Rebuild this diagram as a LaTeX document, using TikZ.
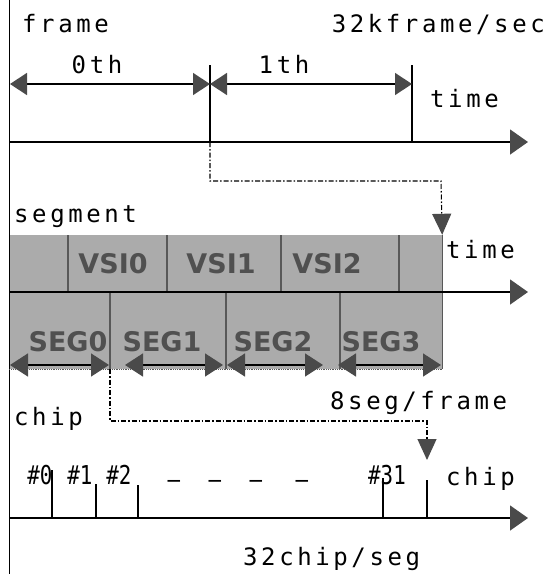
\documentclass[tikz,border=0pt]{standalone}
\usepackage{fontspec}
\usepackage{tikz}
\setmainfont{DejaVu Sans}
\newfontfamily\lblfont[LetterSpace=15]{DejaVu Sans Mono}
\newfontfamily\numfont[FakeStretch=0.8]{DejaVu Sans Mono}
\usetikzlibrary{arrows.meta}

\definecolor{bandgray}{HTML}{ABABAB}
\definecolor{tipgray}{HTML}{4A4A4A}
\definecolor{inkgray}{HTML}{505050}
\definecolor{sepgray}{HTML}{585858}

\begin{document}
\begin{tikzpicture}[x=1pt, y=-1pt,
  lbl/.style={font=\lblfont\fontsize{24}{26}\selectfont, inner sep=0pt},
  num/.style={font=\numfont\fontsize{26}{28}\selectfont, inner sep=0pt, anchor=base},
  cellfont/.style={font=\bfseries\fontsize{27}{29}\selectfont, text=inkgray, inner sep=0pt, anchor=base},
  axis/.style={line width=1.5pt, -{Triangle[length=18pt, width=25pt, color=tipgray]}},
  tick/.style={line width=1.5pt},
  dim/.style={line width=1.5pt, {Triangle[length=17pt, width=22pt, color=tipgray]}-{Triangle[length=17pt, width=22pt, color=tipgray]}},
  segdim/.style={line width=1.5pt, {Triangle[length=18pt, width=23pt, color=tipgray]}-{Triangle[length=18pt, width=23pt, color=tipgray]}},
  link/.style={line width=1.1pt, dash pattern=on 5pt off 2pt on 1.5pt off 2pt, -{Triangle[length=21pt, width=19pt, color=tipgray]}},
  sep/.style={line width=1.6pt, sepgray}
]
\useasboundingbox (0,0) rectangle (547,574);

% left border
\draw[line width=1.6pt] (9.5,0) -- (9.5,574);

% frame row
\coordinate (f0) at (9.5,142);
\coordinate (f1) at (210,142);
\coordinate (f2) at (412,142);
\coordinate (fend) at (528,142);
\coordinate (d0) at (10,84);
\coordinate (d1) at (210,84);
\coordinate (d2) at (412,84);
\node[lbl, anchor=base west] (frame) at (22,32) {frame};
\node[lbl, anchor=base east] (rate1) at (545,32) {32kframe/sec};
\node[lbl, anchor=base] (th0) at (97,73) {0th};
\node[lbl, anchor=base] (th1) at (284,73) {1th};
\node[lbl, anchor=base west] (time1) at (430,107) {time};
\draw[axis] (f0) -- (fend);
\draw[tick] (f1) -- (210,65);
\draw[tick] (f2) -- (412,65);
\draw[dim] (d0) -- (d1);
\draw[dim] (d1) -- (d2);

% segment row
\node[lbl, anchor=base west] (segment) at (14,222) {segment};
\fill[bandgray] (9.5,235) rectangle (442,369);
\node[inner sep=0pt, minimum width=432.5pt, minimum height=134pt] (band) at (225.75,302) {};
\foreach \x in {68,167,281,399} \draw[sep] (\x,235) -- (\x,292);
\foreach \x in {110,226,340} \draw[sep] (\x,292) -- (\x,369);
\draw[sep, line width=1pt] (band.north east) -- (band.south east);
\draw[sep, line width=0.8pt, densely dotted] (band.south west) -- (band.south east);
\coordinate (s0) at (9.5,292);
\coordinate (send) at (528,292);
\draw[axis] (s0) -- (send);
\node[lbl, anchor=base west] (time2) at (446,258) {time};
\node[cellfont] (vsi0) at (113,273) {VSI0};
\node[cellfont] (vsi1) at (221,273) {VSI1};
\node[cellfont] (vsi2) at (327,273) {VSI2};
\node[cellfont] (seg0) at (68,351) {SEG0};
\node[cellfont] (seg1) at (162,351) {SEG1};
\node[cellfont] (seg2) at (273,351) {SEG2};
\node[cellfont] (seg3) at (381,351) {SEG3};
\draw[segdim] (10,365) -- (109,365);
\draw[segdim] (125,365) -- (223,365);
\draw[segdim] (227,365) -- (323,365);
\draw[segdim] (338,365) -- (441,365);
\node[lbl, anchor=base west] (rate2) at (330,409) {8seg/frame};

% links between rows
\coordinate (k1) at (441,181);
\draw[link] (f1) |- (k1) -- (band.north east);
\coordinate (b1) at (110,369);
\coordinate (k2) at (427,421);
\coordinate (k3) at (427,460);
\draw[link] (b1) |- (k2) -- (k3);

% chip row
\node[lbl, anchor=base west] (chip1) at (14,425) {chip};
\coordinate (c0) at (9.5,518);
\coordinate (cend) at (528,518);
\draw[axis] (c0) -- (cend);
\draw[tick] (52,518) -- (52,470);
\draw[tick] (96,518) -- (96,484);
\draw[tick] (138,518) -- (138,485);
\draw[tick] (383,518) -- (383,478);
\draw[tick] (427,518) -- (427,480);
\node[num] (n0) at (40,484) {\#0};
\node[num] (n1) at (80,484) {\#1};
\node[num] (n2) at (119,484) {\#2};
\node[num] (n31) at (387,484) {\#31};
\foreach \x [count=\i] in {174,215,256,302} \node[num] (dash\i) at (\x,488) {–};
\node[lbl, anchor=base west] (chip2) at (446,485) {chip};
\node[lbl, anchor=base west] (rate3) at (243,565) {32chip/seg};
\end{tikzpicture}
\end{document}
